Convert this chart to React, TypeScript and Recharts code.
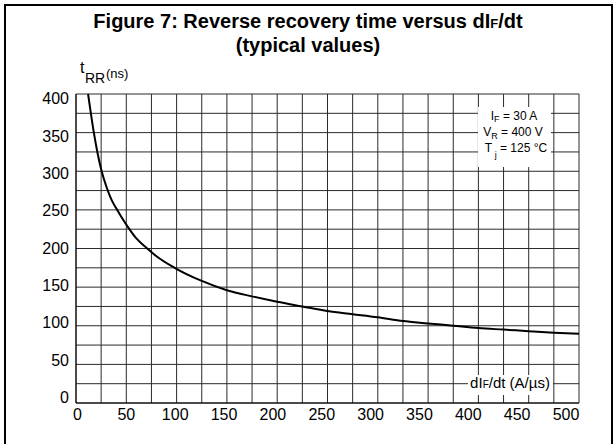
import React from 'react';
import { LineChart, Line, XAxis, YAxis, CartesianGrid } from 'recharts';

// dIF/dt (A/µs) and tRR (ns)
const didt = [12, 15, 18, 21.5, 25.5, 30.5, 35, 40, 45, 52, 60, 70, 80, 98, 125, 150, 175, 200, 225, 250, 275, 300, 325, 350, 375, 400, 425, 450, 475, 500];
const trr = [400, 373, 348, 323, 300, 279, 264, 252, 241, 227, 213, 201, 190, 175, 158, 146, 138, 131, 125, 119, 115, 111, 106, 103, 100, 97, 95, 93, 91, 89.5];

const xGrid = [0, 25, 50, 75, 100, 125, 150, 175, 200, 225, 250, 275, 300, 325, 350, 375, 400, 425, 450, 475, 500];
const yGrid = [0, 25, 50, 75, 100, 125, 150, 175, 200, 225, 250, 275, 300, 325, 350, 375, 400];

const data = didt.map((x, i) => ({ x, t: trr[i] }));

const font = 'Arial, "Liberation Sans", Helvetica, sans-serif';

function XTick(props: any) {
  const v = props.payload.value;
  if (v % 50 !== 0) return null;
  // printed labels drift a little left of the grid in the original
  const x = props.payload.coordinate + 1.5 - v * 0.029;
  return (
    <text x={x} y={420} textAnchor="middle" fontSize={16} fontFamily={font} fill="#000">
      {v}
    </text>
  );
}

function YTick(props: any) {
  const v = props.payload.value;
  if (v % 50 !== 0) return null;
  const y = props.payload.coordinate - 5.5 + v * 0.0248 + 5.7;
  return (
    <text x={69} y={y} textAnchor="end" fontSize={16} fontFamily={font} fill="#000">
      {v}
    </text>
  );
}

export default function App() {
  return (
    <div style={{ position: 'absolute', left: 0, top: 0, width: 615, height: 444, background: '#fff', fontFamily: font }}>
      <LineChart width={615} height={444} data={data} margin={{ top: 94, right: 36, bottom: 0, left: 0 }}>
        <CartesianGrid stroke="#2a2a2a" strokeWidth={1} />
        <XAxis
          type="number"
          dataKey="x"
          domain={[0, 500]}
          ticks={xGrid}
          height={41}
          tickLine={false}
          axisLine={{ stroke: '#000' }}
          tick={<XTick />}
          interval={0}
        />
        <YAxis
          type="number"
          domain={[0, 400]}
          ticks={yGrid}
          width={76}
          tickLine={false}
          axisLine={{ stroke: '#000' }}
          tick={<YTick />}
          interval={0}
        />
        <Line type="monotone" dataKey="t" stroke="#000" strokeWidth={2} dot={false} isAnimationActive={false} />
      </LineChart>

      <svg width={615} height={444} style={{ position: 'absolute', left: 0, top: 0, pointerEvents: 'none' }}>
        <text x={308} y={28} textAnchor="middle" fontSize={20} fontWeight="bold" fontFamily={font} fill="#000">
          Figure 7: Reverse recovery time versus dI<tspan fontSize={13}>F</tspan>/dt
        </text>
        <text x={308} y={52} textAnchor="middle" fontSize={20} fontWeight="bold" fontFamily={font} fill="#000">
          (typical values)
        </text>

        <text x={80} y={73} fontSize={16} fontFamily={font} fill="#000">t</text>
        <text x={85} y={83} fontSize={14} fontFamily={font} fill="#000">RR</text>
        <text x={106} y={78} fontSize={13} fontFamily={font} fill="#000">(ns)</text>

        <rect x={478} y={107} width={73} height={60} fill="#fff" />
        <text x={514} y={120} textAnchor="middle" fontSize={12} fontFamily={font} fill="#000">
          I<tspan fontSize={9} dy={2}>F</tspan><tspan dy={-2}> = 30 A</tspan>
        </text>
        <text x={513} y={136} textAnchor="middle" fontSize={12} fontFamily={font} fill="#000">
          V<tspan fontSize={9} dy={3}>R</tspan><tspan dy={-3}> = 400 V</tspan>
        </text>
        <text x={516} y={152} textAnchor="middle" fontSize={12} fontFamily={font} fill="#000">
          T<tspan fontSize={9} dy={6}> j</tspan><tspan dy={-6}> = 125 °C</tspan>
        </text>

        <rect x={468} y={375} width={85} height={20} fill="#fff" />
        <text x={510} y={388} textAnchor="middle" fontSize={15} fontFamily={font} fill="#000">
          dI<tspan fontSize={10}>F</tspan>/dt (A/µs)
        </text>
      </svg>

      <div style={{ position: 'absolute', left: 4, top: 4, width: 609, height: 445, borderLeft: '2px solid #000', borderTop: '2px solid #000', borderRight: '2px solid #000', boxSizing: 'border-box' }} />
    </div>
  );
}
